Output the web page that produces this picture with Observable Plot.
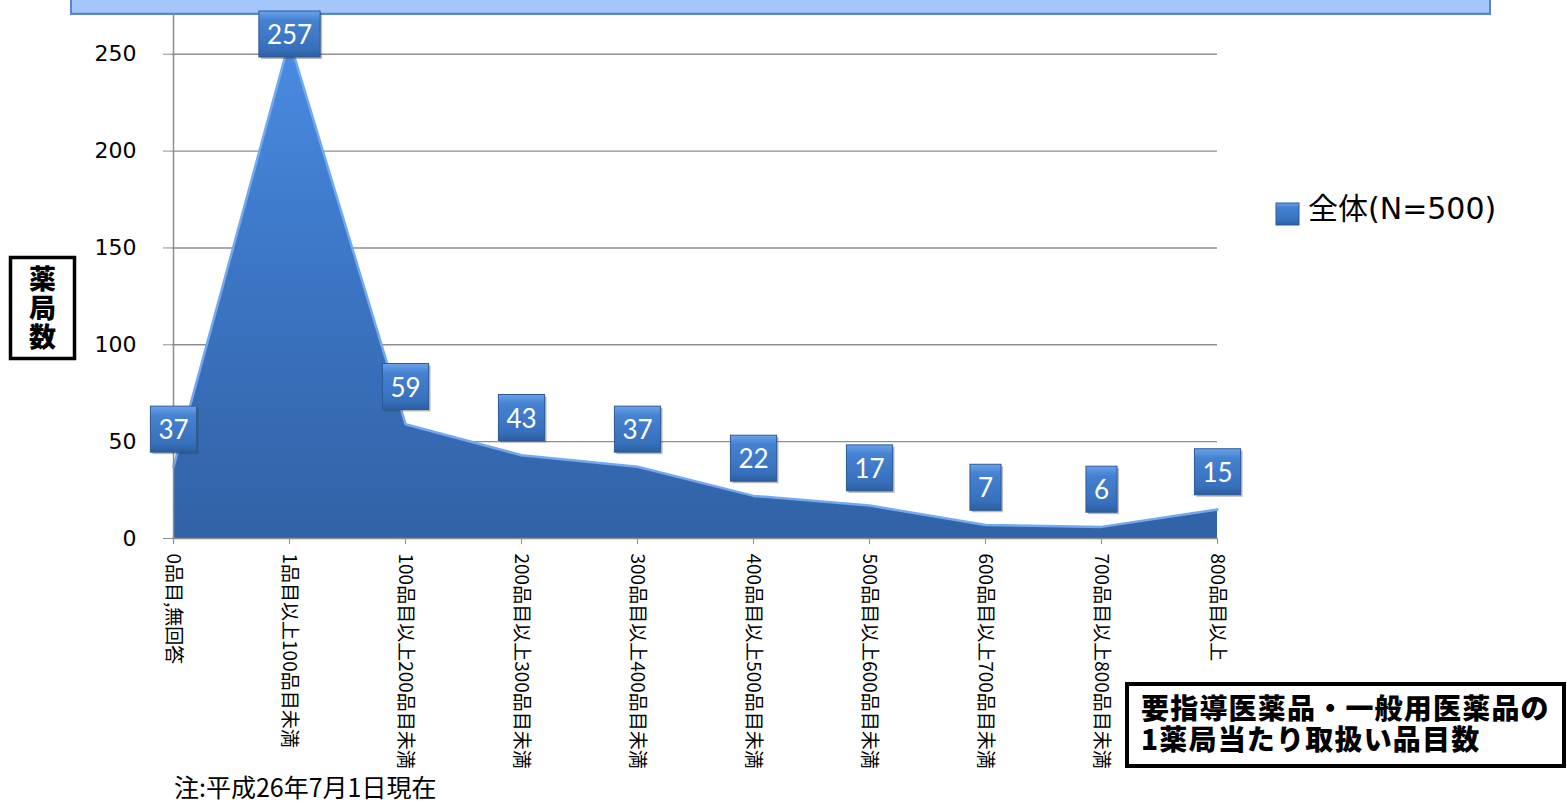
<!DOCTYPE html>
<html>
<head>
<meta charset="utf-8">
<script src="https://cdn.jsdelivr.net/npm/d3@7"></script>
<script src="https://cdn.jsdelivr.net/npm/@observablehq/plot@0.6"></script>
<style>
  html, body { margin: 0; padding: 0; background: white; }
  #chart { position: relative; width: 1567px; height: 803px; overflow: hidden; }
  #banner { position: absolute; left: 70px; top: -3px; width: 1417px; height: 14px;
            background: #a4c6fb; border: 2px solid #5b86c8; box-shadow: inset 0 -1px 0 #8fb2ea; }
  #titlebox { position: absolute; left: 1125px; top: 682px; width: 441px; height: 86px; box-sizing: border-box;
              border: 4px solid black; background: white; padding: 6px 0 0 12px;
              font-family: 'Noto Sans CJK JP', sans-serif; font-weight: 900; font-size: 28px;
              line-height: 31px; letter-spacing: 1.2px; white-space: nowrap; z-index: 2; }
</style>
</head>
<body>
<div id="chart"><div id="banner"></div><div id="titlebox"></div></div>
<script>
// ---- data ----
const categories = [
  "0品目,無回答",
  "1品目以上100品目未満",
  "100品目以上200品目未満",
  "200品目以上300品目未満",
  "300品目以上400品目未満",
  "400品目以上500品目未満",
  "500品目以上600品目未満",
  "600品目以上700品目未満",
  "700品目以上800品目未満",
  "800品目以上"
];
const counts = [37, 257, 59, 43, 37, 22, 17, 7, 6, 15];
const yTicks = [0, 50, 100, 150, 200, 250];
const seriesName = "全体(N=500)";
const yTitle = "薬局数";
const boxLines = ["要指導医薬品・一般用医薬品の", "1薬局当たり取扱い品目数"];
const note = "注:平成26年7月1日現在";

const data = categories.map((c, i) => ({cat: c, value: counts[i]}));
const grid = "#8e8e8e";

const plot = Plot.plot({
  width: 1567, height: 803,
  marginLeft: 172, marginRight: 350, marginTop: 15, marginBottom: 265,
  style: {background: "transparent", fontFamily: "'DejaVu Sans', 'Noto Sans CJK JP', sans-serif", overflow: "visible"},
  x: {type: "point", domain: categories, padding: 0},
  y: {domain: [0, 270]},
  marks: [
    Plot.gridY(yTicks.filter(t => t > 0), {stroke: grid, strokeOpacity: 1, strokeWidth: 1.4}),
    Plot.areaY(data, {x: "cat", y: "value", fill: "url(#areaGrad)"}),
    Plot.line(data, {x: "cat", y: "value", stroke: "#72a9ef", strokeWidth: 2.5}),
    Plot.ruleY([0], {stroke: grid, strokeWidth: 1.5}),
    Plot.ruleX([categories[0]], {stroke: grid, strokeWidth: 1.5}),
    Plot.axisY({ticks: yTicks, tickSize: 9, tickPadding: 27, fontSize: 22, stroke: grid, fill: "black", label: null}),
    Plot.axisX({tickSize: 6, tickPadding: 9, tickRotate: 90, fontSize: 19, fontFamily: "'Noto Sans CJK JP', sans-serif",
                stroke: grid, fill: "black", label: null}),
    Plot.text(data, {x: "cat", y: d => Math.min(d.value, 241), dy: -36, text: d => String(d.value),
                     fill: "white", fontSize: 26, fontFamily: "Lato, 'Open Sans', sans-serif", className: "vlab"})
  ]
});

document.getElementById("chart").appendChild(plot);
const svg = d3.select(plot);
svg.style("position", "absolute").style("left", "0px").style("top", "0px");

// enforce tick label font sizes
svg.selectAll('g[aria-label="y-axis tick label"]').attr("font-size", 22).style("font-size", "22px");
svg.selectAll('g[aria-label="x-axis tick label"]').attr("font-size", 19).style("font-size", "19px");

// gradients
const defs = svg.insert("defs", ":first-child");
const ag = defs.append("linearGradient").attr("id", "areaGrad")
  .attr("gradientUnits", "userSpaceOnUse").attr("x1", 0).attr("y1", 15).attr("x2", 0).attr("y2", 538);
[[0, "#4b8fe6"], [0.45, "#3d77c7"], [1, "#3162a6"]].forEach(([o, c]) => ag.append("stop").attr("offset", o).attr("stop-color", c));
const bg = defs.append("linearGradient").attr("id", "boxGrad").attr("x1", 0).attr("y1", 0).attr("x2", 0).attr("y2", 1);
[[0, "#6aa3ea"], [0.2, "#4682d2"], [0.8, "#3770bd"], [1, "#2d5f9f"]].forEach(([o, c]) => bg.append("stop").attr("offset", o).attr("stop-color", c));

// label boxes behind value labels
svg.selectAll("g.vlab text").each(function() {
  const b = this.getBBox();
  const w = b.width + 16, h = 46;
  const cx = b.x + b.width / 2, cy = b.y + b.height / 2;
  const tr = this.getAttribute("transform");
  const parent = this.parentNode;
  const mk = (dx, dy, fill, stroke) => {
    const r = document.createElementNS("http://www.w3.org/2000/svg", "rect");
    r.setAttribute("x", cx - w / 2 + dx); r.setAttribute("y", cy - h / 2 + dy);
    r.setAttribute("width", w); r.setAttribute("height", h);
    r.setAttribute("fill", fill);
    if (stroke) { r.setAttribute("stroke", stroke); r.setAttribute("stroke-width", 1); }
    if (tr) r.setAttribute("transform", tr);
    parent.insertBefore(r, this);
  };
  mk(2, 2, "rgba(60,60,60,0.35)");
  mk(0, 0, "url(#boxGrad)", "#2b5a98");
});

// annotations
const ann = svg.append("g").attr("text-anchor", "start");
// y title box
ann.append("rect").attr("x", 10.5).attr("y", 257.5).attr("width", 64).attr("height", 101)
  .attr("fill", "white").attr("stroke", "black").attr("stroke-width", 3.5);
ann.append("text").attr("x", 42.5).attr("y", 309)
  .attr("text-anchor", "middle").attr("dominant-baseline", "central")
  .style("writing-mode", "vertical-rl").style("letter-spacing", "2px")
  .attr("font-family", "'Noto Sans CJK JP'").attr("font-weight", 900).attr("font-size", 27).text(yTitle);

// legend
ann.append("rect").attr("x", 1276).attr("y", 203).attr("width", 23).attr("height", 22)
  .attr("fill", "url(#boxGrad)").attr("stroke", "#2b5a98");
ann.append("text").attr("x", 1308).attr("y", 208).attr("dominant-baseline", "central")
  .attr("font-family", "'DejaVu Sans', 'Noto Sans CJK JP'").attr("font-size", 30).text(seriesName);

// note
ann.append("text").attr("x", 174).attr("y", 786).attr("dominant-baseline", "central")
  .attr("font-family", "'Noto Sans CJK JP'").attr("font-size", 25).text(note);

// bottom-right title box (HTML, one block with a line break)
const tb = document.getElementById("titlebox");
boxLines.forEach((ln, i) => {
  if (i > 0) tb.appendChild(document.createElement("br"));
  tb.appendChild(document.createTextNode(ln));
});
</script>
</body>
</html>
